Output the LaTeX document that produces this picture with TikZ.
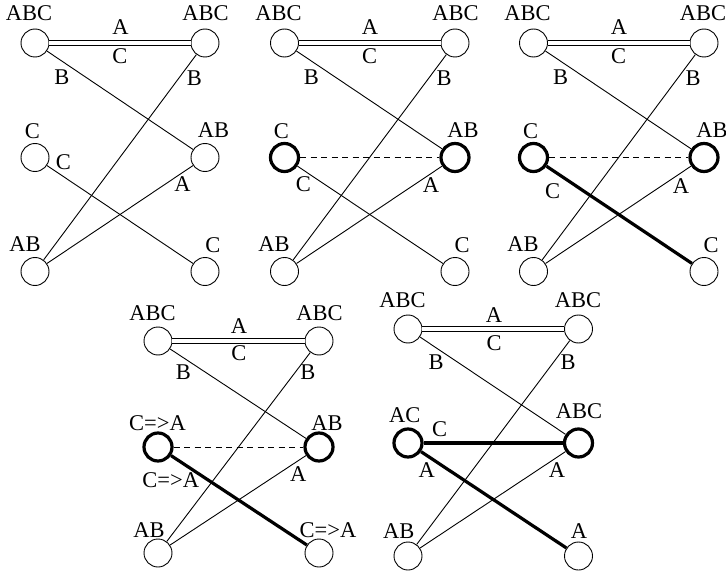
\documentclass[tikz,border=0pt]{standalone}
\usepackage{fontspec}
\setmainfont{Liberation Serif}
\usetikzlibrary{calc}
\tikzset{
  v/.style={circle, draw, line width=0.9pt, minimum size=28pt, inner sep=0pt},
  vt/.style={v, line width=3.2pt},
  e/.style={line width=0.9pt},
  et/.style={line width=3.2pt},
  dbl/.style={double, double distance=3.2pt, line width=1pt},
  dsh/.style={dash pattern=on 6pt off 4.5pt, line width=0.9pt},
  lab/.style={font=\fontsize{22.5}{26}\selectfont, inner sep=0pt, anchor=center}
}
\begin{document}
\begin{tikzpicture}[x=1pt, y=-1pt]
\useasboundingbox (0,0) rectangle (726,575);
% ---------- Panel 1 ----------
\node[v] (a1) at (35,43) {};
\node[v] (b1) at (205,43) {};
\node[v] (c1) at (35,157.5) {};
\node[v] (d1) at (205,157.5) {};
\node[v] (f1) at (35,271.5) {};
\node[v] (g1) at (205,271.5) {};
\draw[dbl] (a1) -- (b1);
\draw[e] (a1) -- (d1);
\draw[e] (b1) -- (f1);
\draw[e] (c1) -- (g1);
\draw[e] (d1) -- (f1);
\node[lab] (a1l) at ($(a1)+(-6,-29.5)$) {ABC};
\node[lab] (b1l) at ($(b1)+(0.5,-29.5)$) {ABC};
\node[lab] (c1l) at ($(c1)+(-2.5,-26)$) {C};
\node[lab] (d1l) at ($(d1)+(8.5,-27.5)$) {AB};
\node[lab] (f1l) at ($(f1)+(-10,-27.5)$) {AB};
\node[lab] (g1l) at ($(g1)+(8,-26)$) {C};
\node[lab] (e1a) at ($(a1)+(85.5,-15.5)$) {A};
\node[lab] (e1c) at ($(a1)+(85,13.5)$) {C};
\node[lab] (e1b) at ($(a1)+(27,34.5)$) {B};
\node[lab] (e1b2) at ($(a1)+(159.5,35)$) {B};
\node[lab] (e1c2) at ($(c1)+(28.5,5)$) {C};
\node[lab] (e1a2) at ($(d1)+(-22.5,27)$) {A};
% ---------- Panel 2 ----------
\node[v] (a2) at (284.5,43) {};
\node[v] (b2) at (455,43) {};
\node[vt] (c2) at (284.5,157.5) {};
\node[vt] (d2) at (455,157.5) {};
\node[v] (f2) at (284.5,271.5) {};
\node[v] (g2) at (455,271.5) {};
\draw[dbl] (a2) -- (b2);
\draw[e] (a2) -- (d2);
\draw[e] (b2) -- (f2);
\draw[e] (c2) -- (g2);
\draw[e] (d2) -- (f2);
\draw[dsh] (c2) -- (d2);
\node[lab] (a2l) at ($(a2)+(-6,-29.5)$) {ABC};
\node[lab] (b2l) at ($(b2)+(0.5,-29.5)$) {ABC};
\node[lab] (c2l) at ($(c2)+(-3,-26)$) {C};
\node[lab] (d2l) at ($(d2)+(8,-27.5)$) {AB};
\node[lab] (f2l) at ($(f2)+(-10.5,-27.5)$) {AB};
\node[lab] (g2l) at ($(g2)+(7,-26)$) {C};
\node[lab] (e2a) at ($(a2)+(85.5,-15.5)$) {A};
\node[lab] (e2c) at ($(a2)+(85,13.5)$) {C};
\node[lab] (e2b) at ($(a2)+(27,34.5)$) {B};
\node[lab] (e2b2) at ($(a2)+(159.5,35)$) {B};
\node[lab] (e2c2) at ($(c2)+(19,27)$) {C};
\node[lab] (e2a2) at ($(d2)+(-24,27.5)$) {A};
% ---------- Panel 3 ----------
\node[v] (a3) at (533.5,43) {};
\node[v] (b3) at (704,43) {};
\node[vt] (c3) at (533.5,157.5) {};
\node[vt] (d3) at (704,157.5) {};
\node[v] (f3) at (533.5,271.5) {};
\node[v] (g3) at (704,271.5) {};
\draw[dbl] (a3) -- (b3);
\draw[e] (a3) -- (d3);
\draw[e] (b3) -- (f3);
\draw[et] (c3) -- (g3);
\draw[e] (d3) -- (f3);
\draw[dsh] (c3) -- (d3);
\node[lab] (a3l) at ($(a3)+(-6,-29.5)$) {ABC};
\node[lab] (b3l) at ($(b3)+(-1,-29.5)$) {ABC};
\node[lab] (c3l) at ($(c3)+(-3,-26)$) {C};
\node[lab] (d3l) at ($(d3)+(8,-27.5)$) {AB};
\node[lab] (f3l) at ($(f3)+(-10.5,-27.5)$) {AB};
\node[lab] (g3l) at ($(g3)+(7,-26)$) {C};
\node[lab] (e3a) at ($(a3)+(85.5,-15.5)$) {A};
\node[lab] (e3c) at ($(a3)+(85,13.5)$) {C};
\node[lab] (e3b) at ($(a3)+(27,34.5)$) {B};
\node[lab] (e3b2) at ($(a3)+(159.5,35)$) {B};
\node[lab] (e3c2) at ($(c3)+(19,33.5)$) {C};
\node[lab] (e3a2) at ($(d3)+(-23,28.5)$) {A};
% ---------- Panel 4 ----------
\node[v] (a4) at (158,341) {};
\node[v] (b4) at (319,341) {};
\node[vt] (c4) at (158,447) {};
\node[vt] (d4) at (319,447) {};
\node[v] (f4) at (158,553) {};
\node[v] (g4) at (319,553) {};
\draw[dbl] (a4) -- (b4);
\draw[e] (a4) -- (d4);
\draw[e] (b4) -- (f4);
\draw[et] (c4) -- (g4);
\draw[e] (d4) -- (f4);
\draw[dsh] (c4) -- (d4);
\node[lab] (a4l) at ($(a4)+(-5.5,-28)$) {ABC};
\node[lab] (b4l) at ($(b4)+(0.5,-28)$) {ABC};
\node[lab] (c4l) at ($(c4)+(-0.5,-24.3)$) {C=>A};
\node[lab] (d4l) at ($(d4)+(8,-24.3)$) {AB};
\node[lab] (f4l) at ($(f4)+(-9,-23)$) {AB};
\node[lab] (g4l) at ($(g4)+(9,-23)$) {C=>A};
\node[lab] (e4a) at ($(a4)+(81,-15)$) {A};
\node[lab] (e4c) at ($(a4)+(81,12.3)$) {C};
\node[lab] (e4b) at ($(a4)+(25.3,30.7)$) {B};
\node[lab] (e4b2) at ($(a4)+(150,30.7)$) {B};
\node[lab] (e4c2) at ($(c4)+(12.8,33.3)$) {C=>A};
\node[lab] (e4a2) at ($(d4)+(-20.7,27.5)$) {A};
% ---------- Panel 5 ----------
\node[v] (a5) at (408,329) {};
\node[v] (b5) at (578.5,329) {};
\node[vt] (c5) at (408,443) {};
\node[vt] (d5) at (578.5,443) {};
\node[v] (f5) at (408,556) {};
\node[v] (g5) at (578.5,556) {};
\draw[dbl] (a5) -- (b5);
\draw[e] (a5) -- (d5);
\draw[e] (b5) -- (f5);
\draw[et] (c5) -- (g5);
\draw[e] (d5) -- (f5);
\draw[et] (c5) -- (d5);
\node[lab] (a5l) at ($(a5)+(-5.5,-28.7)$) {ABC};
\node[lab] (b5l) at ($(b5)+(-0.5,-28.7)$) {ABC};
\node[lab] (c5l) at ($(c5)+(-3.3,-28)$) {AC};
\node[lab] (d5l) at ($(d5)+(0.5,-32.3)$) {ABC};
\node[lab] (f5l) at ($(f5)+(-9.3,-25.2)$) {AB};
\node[lab] (g5l) at ($(g5)+(0.5,-25)$) {A};
\node[lab] (e5a) at ($(a5)+(86,-14)$) {A};
\node[lab] (e5c) at ($(a5)+(86,14)$) {C};
\node[lab] (e5b) at ($(a5)+(28,32.7)$) {B};
\node[lab] (e5b2) at ($(a5)+(160,32.7)$) {B};
\node[lab] (e5c2) at ($(c5)+(31.7,-14.2)$) {C};
\node[lab] (e5a2) at ($(c5)+(18.7,27)$) {A};
\node[lab] (e5a3) at ($(d5)+(-21.5,27)$) {A};
\end{tikzpicture}
\end{document}
